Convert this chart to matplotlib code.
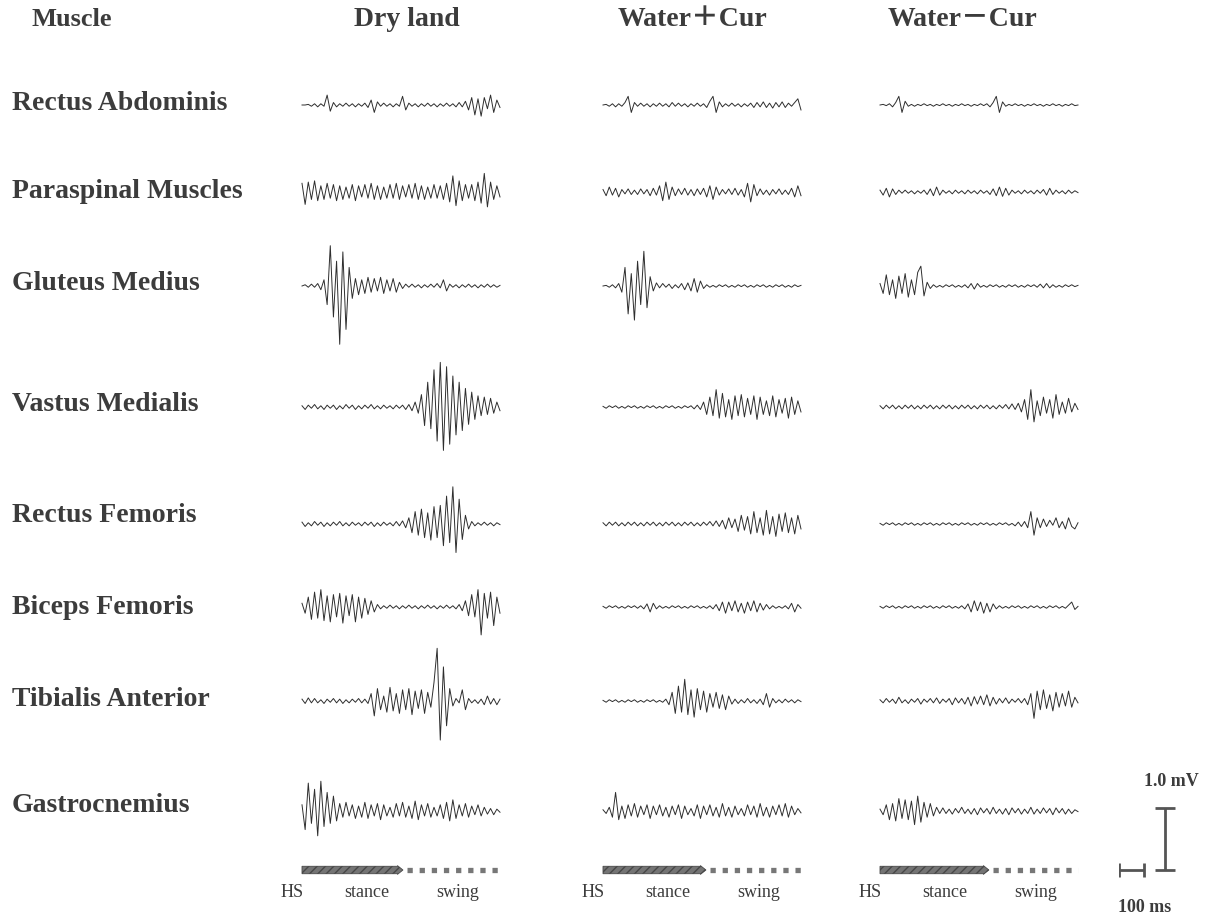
import numpy as np
import matplotlib
matplotlib.use("Agg")
import matplotlib.pyplot as plt

# ---- labels ----
muscles = ["Rectus Abdominis", "Paraspinal Muscles", "Gluteus Medius",
           "Vastus Medialis", "Rectus Femoris", "Biceps Femoris",
           "Tibialis Anterior", "Gastrocnemius"]
conditions = ["Dry land", "Water\uff0bCur", "Water\uff0dCur"]
phase_labels = ["HS", "stance", "swing"]

# gait cycle length (ms) and end of stance (% of cycle) per condition
CYCLE_MS = 800
stance_end_pct = [51, 52, 55]

# ---- EMG samples, 0.01 mV units, evenly spaced over one gait cycle ----
# Dry land
ra_dry = [0, 0, 1, -2, 2, -3, 2, -2, 16, -10, 4, -3, 2, -2, 3, -2,
          2, -3, 2, -2, 3, -4, 8, -12, 5, -2, 3, -2, 2, -3, 2, -2,
          14, -8, 3, -2, 2, -3, 2, -2, 3, -2, 2, -3, 2, -2, 3, -2,
          2, -3, 4, -3, 6, -8, 12, -16, 10, -18, 12, -6, 16, -12, 8, -4]
ps_dry = [14, -20, 16, -12, 18, -14, 10, -12, 14, -10, 12, -14, 10, -12, 8, -10,
          12, -14, 10, -8, 12, -10, 14, -12, 10, -12, 8, -10, 12, -10, 14, -12,
          10, -8, 12, -10, 14, -12, 10, -12, 8, -10, 12, -10, 10, -12, 14, -16,
          26, -22, 18, -14, 12, -10, 12, -14, 16, -18, 30, -24, 16, -12, 10, -8]
gm_dry = [0, 2, -2, 3, -2, 4, -6, 10, -30, 65, -50, 40, -94, 55, -70, 30,
          -20, 12, -14, 10, -12, 14, -10, 12, -8, 14, -12, 10, -8, 12, -10, 6,
          -4, 3, -2, 3, -2, 2, -3, 2, -2, 3, -2, 4, -3, 10, -8, 3,
          -2, 2, -3, 2, -2, 3, -2, 2, -3, 2, -2, 3, -2, 2, -2, 1]
vm_dry = [2, -4, 3, -2, 4, -3, 2, -4, 3, -2, 3, -4, 2, -3, 4, -2,
          3, -4, 2, -3, 3, -2, 4, -3, 2, -3, 3, -2, 2, -3, 3, -2,
          3, -4, 4, -6, 8, -10, 20, -30, 40, -35, 60, -55, 72, -70, 65, -60,
          50, -45, 40, -38, 30, -28, 24, -20, 18, -14, 16, -12, 14, -10, 8, -6]
rf_dry = [3, -4, 2, -3, 4, -2, 3, -4, 2, -3, 3, -2, 4, -3, 2, -3,
          3, -2, 2, -3, 3, -2, 3, -4, 2, -3, 3, -2, 2, -3, 4, -3,
          5, -6, 10, -14, 20, -18, 24, -22, 18, -26, 28, -22, 30, -35, 45, -30,
          60, -46, 40, -25, 14, -8, 4, -3, 2, -2, 3, -2, 2, -3, 2, -1]
bf_dry = [6, -10, 16, -20, 24, -18, 28, -22, 18, -24, 20, -16, 22, -26, 18, -14,
          20, -24, 16, -18, 14, -12, 10, -8, 4, -3, 2, -2, 3, -2, 2, -3,
          2, -2, 3, -2, 2, -3, 2, -2, 3, -2, 2, -3, 2, -2, 3, -2,
          2, -3, 4, -6, 10, -14, 20, -16, 28, -45, 22, -18, 24, -30, 16, -10]
ta_dry = [3, -4, 5, -3, 4, -3, 2, -4, 3, -2, 4, -3, 3, -4, 2, -3,
          3, -2, 4, -3, 3, -4, 12, -24, 20, -14, 8, -18, 22, -16, 12, -20,
          18, -14, 20, -22, 16, -12, 18, -20, 14, -10, 30, 85, -63, 55, -40, 20,
          -8, 4, -3, 18, -14, 4, -3, 2, -4, 3, -6, 8, -5, 4, -6, 3]
gc_dry = [10, -30, 45, -20, 35, -40, 48, -25, 30, -20, 24, -16, 12, -10, 14, -8,
          10, -12, 8, -10, 14, -12, 10, -8, 12, -14, 10, -8, 6, -10, 12, -8,
          14, -10, 8, -12, 16, -14, 10, -8, 12, -10, 6, -8, 10, -12, 14, -16,
          18, -12, 10, -8, 12, -10, 8, -6, 10, -8, 6, -5, 4, -6, 3, -2]

# Water + current
ra_wc = [0, 1, -2, 2, -3, 2, -2, 4, 14, -12, 4, -2, 3, -2, 2, -3,
         2, -2, 3, -2, 2, -3, 4, -2, 3, -2, 2, -3, 2, -2, 3, -2,
         2, -4, 6, 14, -12, 5, -3, 2, -2, 3, -2, 2, -3, 2, -2, 3,
         -4, 4, -3, 5, -4, 3, -5, 4, -3, 5, -4, 3, -2, 4, 10, -8]
ps_wc = [4, -6, 8, -5, 6, -8, 4, -3, 5, -4, 3, -4, 5, -3, 4, -6,
         6, -5, 10, -14, 16, -12, 8, -6, 5, -4, 6, -5, 4, -6, 5, -4,
         6, -8, 10, -12, 8, -5, 4, -3, 5, -4, 6, -5, 4, -8, 14, -16,
         12, -6, 5, -4, 3, -5, 4, -3, 5, -4, 3, -4, 6, -8, 10, -6]
gm_wc = [0, 1, -2, 2, -3, 4, -10, 30, -45, 20, -55, 40, -30, 56, -35, 15,
         -8, 5, -3, 4, -2, 3, -4, 2, -3, 4, -6, 5, -8, 12, -10, 8,
         -4, 2, -2, 1, -2, 2, -1, 2, -2, 1, -2, 2, -1, 2, -2, 1,
         -2, 2, -1, 2, -2, 1, -2, 2, -1, 2, -2, 1, -2, 2, -1, 1]
vm_wc = [1, -2, 2, -1, 2, -2, 1, -2, 2, -1, 2, -2, 1, -2, 2, -1,
         2, -2, 1, -2, 2, -1, 2, -2, 1, -2, 2, -1, 2, -3, 3, -4,
         8, -12, 16, -14, 28, -18, 22, -16, 12, -20, 18, -14, 20, -16, 14, -12,
         18, -20, 16, -12, 10, -14, 18, -16, 12, -10, 14, -18, 16, -12, 10, -8]
rf_wc = [2, -3, 3, -2, 3, -3, 2, -3, 3, -2, 3, -3, 2, -3, 3, -2,
         3, -3, 2, -3, 3, -2, 3, -3, 2, -3, 3, -2, 3, -3, 2, -3,
         3, -2, 4, -3, 5, -4, 6, -8, 10, -6, 8, -12, 14, -10, 12, -16,
         20, -14, 10, -18, 22, -16, 12, -20, 16, -12, 18, -14, 10, -16, 14, -8]
bf_wc = [1, -2, 2, -1, 2, -2, 1, -2, 2, -1, 2, -2, 2, -3, 5, -8,
         6, -3, 2, -2, 1, -2, 2, -1, 2, -2, 1, -2, 2, -1, 2, -2,
         1, -2, 2, -3, 4, -6, 8, -10, 8, -6, 10, -8, 6, -10, 8, -6,
         10, -8, 6, -5, 4, -3, 2, -2, 1, -2, 2, -3, 6, -8, 4, -2]
ta_wc = [1, -2, 2, -1, 2, -2, 1, -2, 2, -1, 2, -2, 1, -2, 2, -1,
         2, -2, 1, -2, 3, -6, 14, -20, 24, -18, 35, -22, 18, -26, 20, -14,
         16, -18, 12, -10, 14, -12, 10, -14, 8, -5, 3, -4, 2, -3, 4, -3,
         2, -4, 3, -6, 12, -10, 4, -3, 2, -3, 3, -2, 2, -3, 2, -1]
gc_wc = [2, -4, 6, -10, 30, -14, 8, -12, 10, -8, 12, -10, 8, -6, 10, -12,
         8, -6, 10, -8, 6, -10, 8, -6, 10, -12, 8, -6, 4, -8, 10, -12,
         8, -6, 10, -8, 6, -10, 12, -8, 6, -10, 8, -6, 4, -8, 10, -6,
         8, -10, 12, -8, 6, -10, 8, -6, 10, -8, 12, -10, 8, -6, 4, -3]

# Water - current
ra_wm = [0, 1, -1, 2, -3, 4, 14, -12, 6, -2, 1, -2, 1, -1, 2, -1,
         1, -2, 1, -1, 2, -1, 1, -2, 1, -1, 2, -1, 1, -2, 1, -1,
         2, -1, 2, -3, 4, 14, -12, 5, -2, 1, -1, 2, -1, 1, -2, 1,
         -1, 2, -1, 1, -2, 1, -1, 2, -1, 1, -2, 1, -1, 2, -1, 0]
ps_wm = [3, -5, 6, -8, 5, -4, 3, -2, 3, -2, 2, -3, 2, -2, 3, -4,
         5, -6, 8, -5, 3, -2, 2, -3, 3, -2, 2, -3, 3, -2, 2, -3,
         3, -2, 2, -4, 5, -6, 8, -7, 6, -5, 3, -2, 2, -3, 3, -2,
         2, -3, 3, -2, 4, -5, 6, -4, 3, -2, 2, -3, 3, -2, 2, -1]
gm_wm = [4, -12, 18, -14, 10, -20, 16, -12, 20, -18, 10, -14, 22, 32, -16, 6,
         -4, 2, -2, 1, -2, 2, -1, 2, -2, 1, -2, 2, -3, 4, -5, 4,
         -2, 1, -2, 2, -1, 2, -2, 1, -2, 2, -1, 2, -2, 1, -2, 2,
         -1, 2, -2, 3, -3, 4, -3, 2, -2, 1, -2, 2, -1, 2, -1, 1]
vm_wm = [2, -3, 3, -2, 3, -3, 2, -3, 3, -2, 3, -3, 2, -3, 3, -2,
         3, -3, 2, -3, 3, -2, 3, -3, 2, -3, 3, -2, 3, -3, 2, -3,
         3, -2, 3, -3, 2, -3, 3, -2, 4, -3, 5, -4, 6, -8, 12, -20,
         28, -24, 10, -14, 16, -10, 12, -18, 20, -12, 8, -10, 14, -8, 6, -4]
rf_wm = [1, -2, 2, -1, 2, -2, 1, -2, 2, -1, 2, -2, 1, -2, 2, -1,
         2, -2, 1, -2, 2, -1, 2, -2, 1, -2, 2, -1, 2, -2, 1, -2,
         2, -1, 2, -2, 1, -2, 2, -1, 2, -2, 1, -3, 3, -4, 4, -6,
         20, -18, 10, -6, 8, -4, 6, -2, 10, -6, 4, -8, 10, -4, -8, 2]
bf_wm = [1, -2, 2, -1, 2, -2, 1, -2, 2, -1, 2, -2, 1, -2, 2, -1,
         2, -2, 1, -2, 2, -1, 2, -2, 1, -2, 2, -3, 5, -8, 10, -6,
         8, -10, 6, -8, 5, -3, 2, -2, 1, -2, 2, -1, 2, -2, 1, -2,
         2, -1, 2, -2, 1, -2, 2, -1, 2, -2, 1, -2, 3, 8, -4, 1]
ta_wm = [2, -3, 4, -2, 3, -4, 6, -3, 2, -4, 3, -2, 4, -5, 3, -2,
         4, -3, 5, -4, 3, -2, 4, -6, 5, -3, 4, -5, 6, -8, 7, -5,
         8, -6, 10, -8, 6, -5, 4, -3, 5, -4, 3, -2, 4, -3, 4, -6,
         12, -28, 16, -14, 18, -12, 10, -16, 14, -10, 12, -8, 16, -10, 6, -3]
gc_wm = [3, -6, 10, -14, 12, -16, 20, -12, 18, -14, 16, -22, 24, -18, 14, -10,
         12, -8, 6, -4, 5, -4, 3, -5, 4, -3, 6, -4, 3, -5, 4, -6,
         5, -3, 4, -5, 6, -4, 3, -5, 4, -6, 5, -3, 4, -5, 3, -4,
         6, -5, 3, -4, 5, -3, 4, -6, 5, -3, 4, -5, 3, -4, 2, -1]

traces = [
    [ra_dry, ra_wc, ra_wm],
    [ps_dry, ps_wc, ps_wm],
    [gm_dry, gm_wc, gm_wm],
    [vm_dry, vm_wc, vm_wm],
    [rf_dry, rf_wc, rf_wm],
    [bf_dry, bf_wc, bf_wm],
    [ta_dry, ta_wc, ta_wm],
    [gc_dry, gc_wc, gc_wm],
]

# ---- layout (pixels) ----
W, H = 1208, 919
PX_PER_MV = 62.0
PX_PER_MS = 198.0 / CYCLE_MS
col_x = [302, 603, 880]
header_x = [72, 407, 692, 963]
row_base = [105, 192, 286, 407, 524, 607, 701, 811]
label_y = [104, 191, 283, 404, 515, 607, 700, 805]
phase_y = 870

SERIF = ["Liberation Serif", "DejaVu Serif"]
SERIF_CJK = ["Liberation Serif", "Noto Sans CJK SC", "DejaVu Serif"]
TXT = "#3c3c3c"
INK = "#2e2e2e"

fig = plt.figure(figsize=(W / 100, H / 100), dpi=100)
fig.patch.set_facecolor("white")


def px_axes(x0, base, t_span, mv_lo, mv_hi):
    # axes whose data units are ms (x) and mV (y) at a fixed pixel scale
    w = t_span * PX_PER_MS
    top = base - mv_hi * PX_PER_MV
    h = (mv_hi - mv_lo) * PX_PER_MV
    ax = fig.add_axes([x0 / W, 1 - (top + h) / H, w / W, h / H])
    ax.set_xlim(0, t_span)
    ax.set_ylim(mv_lo, mv_hi)
    ax.axis("off")
    ax.patch.set_alpha(0)
    return ax


def ftext(x, y, s, **kw):
    fig.text(x / W, 1 - y / H, s, **kw)


# headers
ftext(header_x[0], 20, "Muscle", ha="center", va="center", fontsize=19,
      fontweight="bold", color=TXT, family=SERIF)
for hx, name in zip(header_x[1:], conditions):
    ftext(hx, 20, name, ha="center", va="center", fontsize=20,
          fontweight="bold", color=TXT, family=SERIF_CJK)

# muscle names
for ly, name in zip(label_y, muscles):
    ftext(12, ly, name, ha="left", va="center", fontsize=20,
          fontweight="bold", color=TXT, family=SERIF)

# EMG traces
for r, row in enumerate(traces):
    for c, vals in enumerate(row):
        ax = px_axes(col_x[c], row_base[r], CYCLE_MS, -1.2, 1.2)
        v = np.array(vals) / 100.0
        t = np.linspace(0, CYCLE_MS, len(v))
        ax.plot(t, v, color=INK, lw=0.7, clip_on=False)

# stance / swing bars
for c in range(3):
    ax = px_axes(col_x[c], phase_y, CYCLE_MS, -0.5, 0.5)
    tip = CYCLE_MS * stance_end_pct[c] / 100.0
    ax.arrow(0, 0, tip, 0, width=0.12, head_width=0.14, head_length=22,
             length_includes_head=True, color="#747474", ec="#474747", lw=0.6,
             hatch="////", clip_on=False)
    ax.plot([tip + 18, CYCLE_MS], [0, 0], color="#777777", lw=3.8,
            dashes=(1.0, 1.3), clip_on=False)
    for x_ms, s in zip([-40, 260, 630], phase_labels):
        ax.text(x_ms, -0.37, s, ha="center", va="center", fontsize=13,
                color=TXT, family=SERIF, clip_on=False)

# scale bars: 100 ms and 1.0 mV
sax = px_axes(1119, phase_y, 330, -0.8, 1.6)
sax.errorbar(50, 0, xerr=50, fmt="none", ecolor="#555555", elinewidth=2,
             capsize=5, capthick=2)
sax.errorbar(186, 0.5, yerr=0.5, fmt="none", ecolor="#555555", elinewidth=2,
             capsize=7, capthick=2)
sax.text(212, 1.43, "1.0 mV", ha="center", va="center", fontsize=13,
         fontweight="bold", color=TXT, family=SERIF)
sax.text(105, -0.6, "100 ms", ha="center", va="center", fontsize=13,
         fontweight="bold", color=TXT, family=SERIF)

fig.savefig("out.png", dpi=100, facecolor="white")
